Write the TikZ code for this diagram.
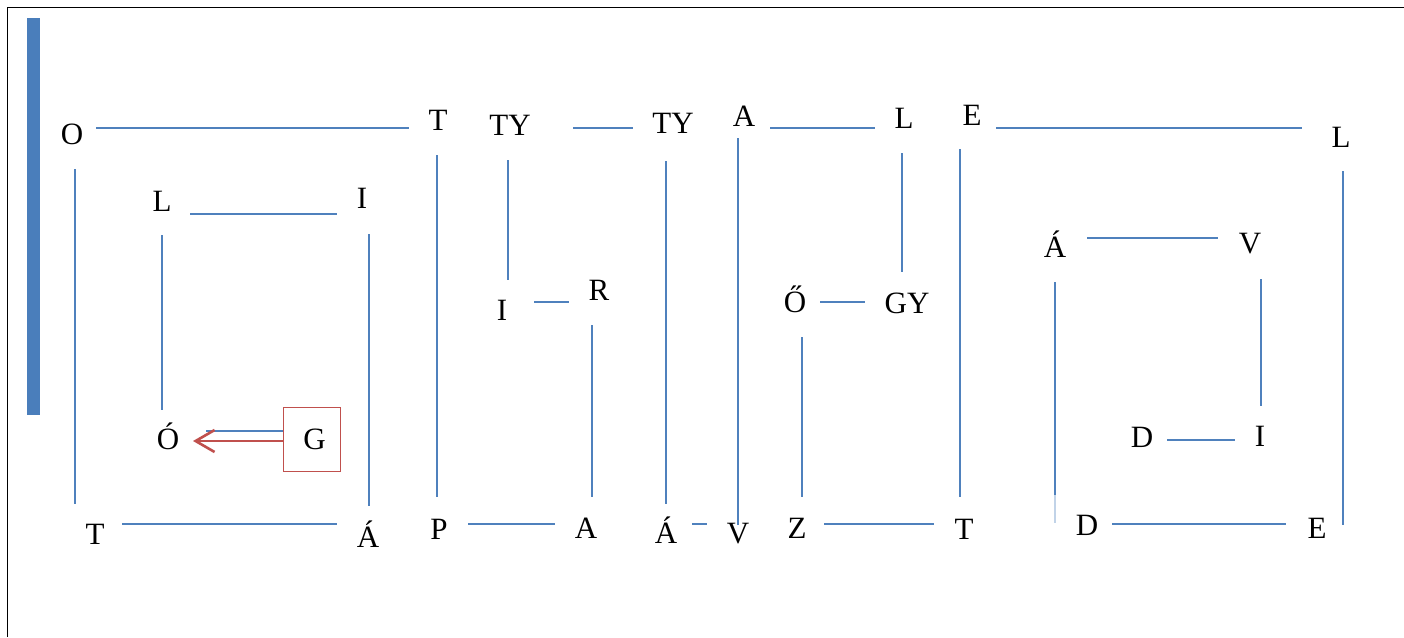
\documentclass[tikz,border=0pt]{standalone}
\usepackage{fontspec}
\setmainfont{Liberation Serif}
\usetikzlibrary{arrows.meta}
\definecolor{lblue}{HTML}{4F81BD}
\definecolor{barblue}{HTML}{4A7EBB}
\definecolor{lred}{HTML}{C0504D}
\begin{document}
\begin{tikzpicture}[x=1pt,y=-1pt,
  lt/.style={anchor=base,inner sep=0pt,font=\fontsize{31}{31}\selectfont},
  conn/.style={draw=lblue,line width=1.8pt},
  faint/.style={draw=lblue!35,line width=1.8pt},
  redarr/.style={draw=lred,line width=2.6pt,-{Straight Barb[length=19pt,width=22pt,line width=2.6pt]}},
  gbox/.style={draw=lred,line width=1pt,minimum width=57pt,minimum height=64pt,inner sep=0pt,font=\fontsize{31}{31}\selectfont},
  frame/.style={draw=black,line width=1.3pt}]
\useasboundingbox (0,0) rectangle (1404,637);
% frame and side bar
\draw[frame] (7.5,637) -- (7.5,7.5) -- (1404,7.5);
\fill[barblue] (27,18) rectangle (40,415);
% letters
\node[lt] (O)   at (72,144)   {O};
\node[lt] (T1)  at (438,130)  {T};
\node[lt] (TYa) at (510,135)  {TY};
\node[lt] (TYb) at (673,133)  {TY};
\node[lt] (A1)  at (744,126)  {A};
\node[lt] (L1)  at (904,128)  {L};
\node[lt] (E1)  at (972,125)  {E};
\node[lt] (L2)  at (1341,147) {L};
\node[lt] (L3)  at (162,211)  {L};
\node[lt] (I1)  at (362,208)  {I};
\node[lt] (I2)  at (502,320)  {I};
\node[lt] (R)   at (599,300)  {R};
\node[lt] (Oo)  at (795,312)  {Ő};
\node[lt] (GY)  at (907,313)  {GY};
\node[lt] (Aa1) at (1055,257) {Á};
\node[lt] (V1)  at (1250,253) {V};
\node[lt] (Oa)  at (168,449)  {Ó};
\node[gbox] (G) at (312,439)  {\hspace*{5pt}G};
\node[lt] (D1)  at (1142,447) {D};
\node[lt] (I3)  at (1260,446) {I};
\node[lt] (T2)  at (95,544)   {T};
\node[lt] (Aa2) at (368,547)  {Á};
\node[lt] (P)   at (439,539)  {P};
\node[lt] (A2)  at (586,538)  {A};
\node[lt] (Aa3) at (666,543)  {Á};
\node[lt] (V2)  at (738,543)  {V};
\node[lt] (Z)   at (797,538)  {Z};
\node[lt] (T3)  at (964,539)  {T};
\node[lt] (D2)  at (1087,535) {D};
\node[lt] (E2)  at (1317,538) {E};
% vertical connectors
\draw[conn,shorten <=25pt,shorten >=40pt] (O.base-|75,0) -- (T2.base-|75,0);
\draw[conn,shorten <=24pt,shorten >=39pt] (L3.base-|162,0) -- (Oa.base-|162,0);
\draw[conn,shorten <=26pt,shorten >=41pt] (I1.base-|369,0) -- (Aa2.base-|369,0);
\draw[conn,shorten <=25pt,shorten >=42pt] (T1.base-|437,0) -- (P.base-|437,0);
\draw[conn,shorten <=25pt,shorten >=40pt] (TYa.base-|508,0) -- (I2.base-|508,0);
\draw[conn,shorten <=25pt,shorten >=41pt] (R.base-|592,0) -- (A2.base-|592,0);
\draw[conn,shorten <=28pt,shorten >=39pt] (TYb.base-|666,0) -- (Aa3.base-|666,0);
\draw[conn,shorten <=12pt,shorten >=18pt] (A1.base-|738,0) -- (V2.base-|738,0);
\draw[conn,shorten <=25pt,shorten >=41pt] (L1.base-|902,0) -- (GY.base-|902,0);
\draw[conn,shorten <=25pt,shorten >=41pt] (Oo.base-|802,0) -- (Z.base-|802,0);
\draw[conn,shorten <=24pt,shorten >=42pt] (E1.base-|960,0) -- (T3.base-|960,0);
\draw[conn,shorten <=25pt,shorten >=40pt] (Aa1.base-|1055,0) -- (D2.base-|1055,0);
\draw[faint,shorten <=238pt,shorten >=12pt] (Aa1.base-|1055,0) -- (D2.base-|1055,0);
\draw[conn,shorten <=26pt,shorten >=40pt] (V1.base-|1261,0) -- (I3.base-|1261,0);
\draw[conn,shorten <=24pt,shorten >=13pt] (L2.base-|1343,0) -- (E2.base-|1343,0);
% horizontal connectors
\draw[conn,shorten <=24pt,shorten >=29pt] (O|-0,128) -- (T1|-0,128);
\draw[conn,shorten <=27pt,shorten >=31pt] (T2|-0,524) -- (Aa2|-0,524);
\draw[conn,shorten <=28pt,shorten >=25pt] (L3|-0,214) -- (I1|-0,214);
\draw[conn,shorten <=63pt,shorten >=40pt] (TYa|-0,128) -- (TYb|-0,128);
\draw[conn,shorten <=32pt,shorten >=30pt] (I2|-0,302) -- (R|-0,302);
\draw[conn,shorten <=29pt,shorten >=31pt] (P|-0,524) -- (A2|-0,524);
\draw[conn,shorten <=26pt,shorten >=31pt] (Aa3|-0,524) -- (V2|-0,524);
\draw[conn,shorten <=26pt,shorten >=29pt] (A1|-0,128) -- (L1|-0,128);
\draw[conn,shorten <=24pt,shorten >=39pt] (E1|-0,128) -- (L2|-0,128);
\draw[conn,shorten <=25pt,shorten >=42pt] (Oo|-0,302) -- (GY|-0,302);
\draw[conn,shorten <=27pt,shorten >=30pt] (Z|-0,524) -- (T3|-0,524);
\draw[conn,shorten <=32pt,shorten >=32pt] (Aa1|-0,238) -- (V1|-0,238);
\draw[conn,shorten <=25pt,shorten >=25pt] (D1|-0,440) -- (I3|-0,440);
\draw[conn,shorten <=25pt,shorten >=31pt] (D2|-0,524) -- (E2|-0,524);
% O-G pair
\draw[conn,shorten <=38pt] (Oa|-0,431) -- (G.west|-0,431);
\draw[redarr,shorten >=25pt] (G.west|-0,441) -- (Oa|-0,441);
\end{tikzpicture}
\end{document}
